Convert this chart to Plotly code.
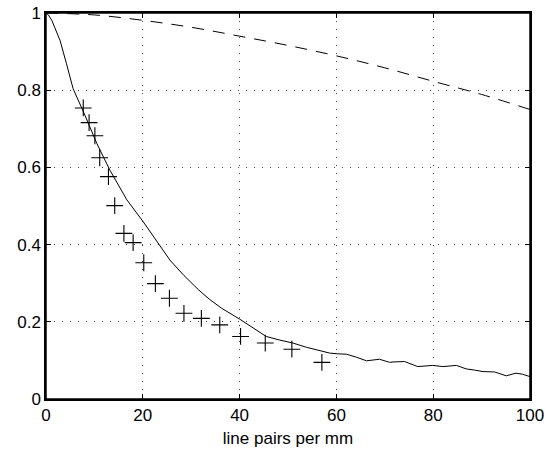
import plotly.graph_objects as go

# measured points (+ markers)
meas_x = [7.7, 8.9, 10.1, 11.1, 12.9, 14.2, 16.1, 18.0, 20.2, 22.6, 25.5, 28.5, 32.1, 35.9, 40.2, 45.3, 50.8, 57.0]
meas_y = [0.754, 0.716, 0.682, 0.625, 0.576, 0.501, 0.429, 0.405, 0.353, 0.299, 0.261, 0.222, 0.209, 0.192, 0.162, 0.145, 0.129, 0.095]

# solid curve
solid_x = [0, 0.5, 1.2, 2.0, 2.9, 4.2, 5.6, 8.05, 10.5, 13.2, 16.7, 20.1, 23.2, 25.6, 28.5, 31.5, 33.8, 36.3, 40.0,
           42.7, 45.5, 48.2, 51.0, 53.8, 56.2, 58.6, 60.3, 62.1, 64.2, 66.2, 67.6, 68.9, 71.0, 71.7, 74.1, 76.8,
           79.9, 82.0, 84.8, 86.8, 88.5, 90.3, 92.7, 95.1, 97.1, 98.5, 100]
solid_y = [1.0, 0.995, 0.981, 0.958, 0.929, 0.87, 0.804, 0.735, 0.662, 0.593, 0.516, 0.459, 0.403, 0.360, 0.320, 0.283, 0.258, 0.235, 0.207,
           0.185, 0.162, 0.153, 0.145, 0.134, 0.126, 0.119, 0.117, 0.116, 0.108, 0.099, 0.101, 0.103, 0.095, 0.096, 0.097, 0.084,
           0.087, 0.084, 0.087, 0.078, 0.075, 0.071, 0.070, 0.060, 0.067, 0.064, 0.058]

# dashed curve
dash_x = [0, 10, 20, 30, 40, 50, 60, 70, 80, 90, 100]
dash_y = [1.0, 0.995, 0.981, 0.963, 0.940, 0.916, 0.889, 0.858, 0.823, 0.789, 0.750]

x_ticks = [0, 20, 40, 60, 80, 100]
y_ticks = [0, 0.2, 0.4, 0.6, 0.8, 1]
y_tick_labels = ["0", "0.2", "0.4", "0.6", "0.8", "1"]

FONT = "Liberation Sans, Arial, Helvetica"

fig = go.Figure()
fig.add_trace(go.Scatter(x=solid_x, y=solid_y, mode="lines",
                         line=dict(color="black", width=1), showlegend=False))
fig.add_trace(go.Scatter(x=dash_x, y=dash_y, mode="lines", line_shape="spline",
                         line=dict(color="black", width=1, dash="12px,9px"), showlegend=False))
fig.add_trace(go.Scatter(x=meas_x, y=meas_y, mode="markers",
                         marker=dict(symbol="cross-thin", size=12, line=dict(color="black", width=1.1)),
                         showlegend=False))

axis_common = dict(
    showgrid=True, gridcolor="#444444", griddash="1px,7px", gridwidth=1,
    showline=True, linecolor="black", linewidth=1.5, mirror="allticks",
    ticks="inside", ticklen=5, tickcolor="black", zeroline=False, automargin=False,
    tickfont=dict(family=FONT, size=17, color="black"),
)

fig.update_xaxes(range=[0, 100], tickvals=x_ticks, ticktext=[str(v) for v in x_ticks],
                 title=dict(text="line pairs per mm", font=dict(family=FONT, size=17, color="black"),
                            standoff=8),
                 **axis_common)
fig.update_yaxes(range=[0, 1], tickvals=y_ticks, ticktext=y_tick_labels, **axis_common)

# box frame around the plot area
fig.add_shape(type="rect", xref="paper", yref="paper", x0=0, y0=0, x1=1, y1=1,
              line=dict(color="black", width=1.5), layer="above")

fig.update_layout(
    width=554, height=454,
    margin=dict(l=46, r=24, t=13, b=55),
    plot_bgcolor="white", paper_bgcolor="white",
)

fig.write_html("out.html", config={"displayModeBar": False},
               post_script="document.body.style.margin='0';document.body.style.overflow='hidden';")
